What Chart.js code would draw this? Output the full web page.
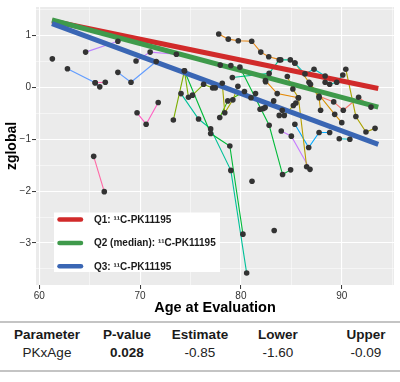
<!DOCTYPE html>
<html><head><meta charset="utf-8">
<script src="https://cdn.jsdelivr.net/npm/chart.js@4/dist/chart.umd.min.js"></script>
<style>
html,body{margin:0;padding:0;background:#fff;width:400px;height:382px;overflow:hidden;font-family:"Liberation Sans",Arial,sans-serif}
#wrap{position:absolute;left:0;top:0;width:400px;height:318px}
.rule{position:absolute;left:0;width:400px;height:2px;background:#C4C4C4}
.cell{position:absolute;width:90px;margin-left:-45px;text-align:center;font-size:13.5px;line-height:16px;color:#222;white-space:nowrap}
.hd{font-weight:bold;color:#1a1a1a}
</style></head><body>
<div id="wrap"><canvas id="c" width="400" height="318"></canvas></div>
<div id="tbl"></div>
<script>
// ---- data (age at evaluation, zglobal) per subject ----
const s01 = [[61.3, 0.55]];
const s02 = [[64.6, 0.68], [67.8, 0.89]];
const s03 = [[62.8, 0.36], [65.55, 0.09], [66.0, 0.01]];
const s04 = [[65.55, 0.09], [66.55, 0.10]];
const s05 = [[67.8, 0.29], [69.1, 0.10], [71.6, 0.50]];
const s06 = [[69.6, 0.51], [71.0, 0.68], [73.6, 0.64]];
const s07 = [[69.7, -0.49], [70.6, -0.71], [71.8, -0.29]];
const s08 = [[65.4, -1.33], [66.45, -2.01]];
const s09 = [[73.3, -0.63], [74.4, 0.32], [74.8, -0.19], [75.2, -0.15], [76.3, 0.06], [77.2, -0.01]];
const s10 = [[74.4, 0.32], [77.0, -0.89], [78.9, -1.13], [80.2, -2.83]];
const s11 = [[74.06, -0.12], [75.8, -0.61], [77.0, -0.80], [79.0, -1.60], [80.57, -3.58]];
const s12 = [[77.45, -0.01], [78.15, 0.08], [78.4, -0.49], [79.2, -0.24], [79.7, 0.02]];
const s13 = [[77.9, -0.58], [78.7, -0.26], [80.35, -0.08], [81.0, -0.20], [81.45, -0.12]];
const s14 = [[79.9, 0.39], [82.8, -0.73], [84.13, -1.68], [84.93, -1.59]];
const s15 = [[79.15, 0.19], [82.8, 0.27], [83.8, 0.53], [84.9, 0.53]];
const s16 = [[77.8, 1.03], [78.75, 0.93], [79.74, 0.90], [81.07, 0.89], [81.97, 0.68], [82.76, 0.59], [83.95, 0.53]];
const s17 = [[85.35, 0.47], [86.35, 0.26], [87.25, 0.35], [88.35, 0.22]];
const s18 = [[88.35, 0.10], [88.8, 0.06], [89.5, 0.10], [90.1, 0.24]];
const s19 = [[90.4, 0.35], [91.4, -0.56], [92.4, -0.86], [93.3, -0.79]];
const s20 = [[85.35, 0.47], [86.75, 0.10], [87.75, -0.20], [87.9, -0.44]];
const s21 = [[86.9, 0.06], [89.3, -0.52], [90.0, -0.68]];
const s22 = [[87.75, -0.17], [89.2, -0.28], [90.15, -0.44], [91.67, -0.19], [92.9, -0.38]];
const s23 = [[82.43, 0.13], [83.6, -0.12], [85.7, -0.20]];
const s24 = [[84.6, 0.21], [85.15, -0.03], [85.7, -0.20], [86.52, -1.53]];
const s25 = [[81.9, -0.42], [82.2, -0.41], [82.4, -0.39], [83.25, -0.26]];
const s26 = [[83.8, -0.54], [84.3, -0.54], [85.2, -0.35], [85.45, -0.30]];
const s27 = [[85.35, -0.71], [86.72, -1.16], [87.75, -0.87], [88.8, -0.87]];
const s28 = [[89.75, -0.99], [90.8, -1.00]];
const s29 = [[84.0, -0.84], [85.0, -0.94], [86.85, -1.58]];
const s30 = [[77.95, 0.43], [79.0, 0.42]];
const s31 = [[81.1, -1.81]];
const s32 = [[83.3, -2.76]];
const s33 = [[82.45, 0.11]];
const s34 = [[84.1, -0.44]];
const subjects = [s01,s02,s03,s04,s05,s06,s07,s08,s09,s10,s11,s12,s13,s14,s15,s16,s17,s18,s19,s20,s21,s22,s23,s24,s25,s26,s27,s28,s29,s30,s31,s32,s33,s34];

// regression fits: age endpoints and predicted zglobal for PK quartiles
const regAge = [61.27, 93.62];
const q1Z = [1.28, -0.02];
const q2Z = [1.30, -0.38];
const q3Z = [1.23, -1.10];
const regLabels = ['Q1: \u00B9\u00B9C-PK11195', 'Q2 (median): \u00B9\u00B9C-PK11195', 'Q3: \u00B9\u00B9C-PK11195'];

// tick values
const xTicks = [60, 65, 70, 75, 80, 85, 90, 95];
const yTicks = [-3.5, -3, -2.5, -2, -1.5, -1, -0.5, 0, 0.5, 1, 1.5];

// table
const tblHeader = ['Parameter', 'P-value', 'Estimate', 'Lower', 'Upper'];
const tblRow = ['PKxAge', '0.028', '-0.85', '-1.60', '-0.09'];

// ---- styles ----
const palette = ['#333333','#B983FF','#619CFF','#FF64B0','#619CFF','#C77CFF','#FF61C3','#FF67A4',
  '#7CAE00','#00BA38','#00C19A','#A3A500','#39B600','#00BA38','#00C08B','#E68613','#00BFC4','#00C1A9',
  '#ABA300','#CD9600','#D89000','#F8766D','#E58700','#B79F00','#7CAE00','#9DA700','#00A9FF','#00BFC4',
  '#C77CFF','#00C08B','#333333','#333333','#333333','#333333'];
const regColors = ['#D12A2A', '#3F9A4B', '#3A66B4'];

const datasets = [];
const allPts = [];
subjects.forEach((s, i) => {
  const pts = s.map(p => ({x: p[0], y: p[1]}));
  pts.forEach(p => allPts.push(p));
  if (pts.length > 1) datasets.push({data: pts, showLine: true, borderColor: palette[i], borderWidth: 1.1, pointRadius: 0, order: 3});
});
[q1Z, q2Z, q3Z].forEach((z, i) => {
  datasets.push({label: regLabels[i], isReg: true, data: regAge.map((a, j) => ({x: a, y: z[j]})), showLine: true,
    borderColor: regColors[i], borderWidth: 5, borderCapStyle: 'butt', pointRadius: 0, order: 2 - i * 0.1});
});
datasets.push({data: allPts, showLine: false, pointRadius: 2.8, pointBackgroundColor: '#333333', pointBorderWidth: 0, order: 0});

const bgPlugin = {
  id: 'bg',
  beforeDraw(chart) {
    const {ctx, chartArea: a} = chart;
    ctx.save(); ctx.fillStyle = '#EBEBEB'; ctx.fillRect(a.left, a.top, a.right - a.left, a.bottom - a.top); ctx.restore();
  }
};
const legendPlugin = {
  id: 'ggLegend',
  afterDraw(chart) {
    const {ctx} = chart;
    const regs = chart.data.datasets.filter(d => d.isReg);
    ctx.save();
    ctx.fillStyle = '#FFFFFF';
    ctx.fillRect(54, 212.5, 166, 59.5);
    regs.forEach((d, i) => {
      const y = 219.5 + i * 23.4;
      ctx.strokeStyle = d.borderColor; ctx.lineWidth = 4.5; ctx.lineCap = 'round';
      ctx.beginPath(); ctx.moveTo(59.5, y); ctx.lineTo(81, y); ctx.stroke();
      ctx.fillStyle = '#1a1a1a'; ctx.font = 'bold 10px "Liberation Sans", Arial, sans-serif';
      ctx.textBaseline = 'middle'; ctx.textAlign = 'left';
      ctx.fillText(d.label, 94, y + 0.5);
    });
    ctx.restore();
  }
};

const isMajorX = v => v % 10 === 0;
const isMajorY = v => Number.isInteger(v);
new Chart(document.getElementById('c'), {
  type: 'scatter',
  data: {datasets},
  plugins: [bgPlugin, legendPlugin],
  options: {
    responsive: false, animation: false, events: [],
    layout: {padding: {left: 0, right: 6, top: 5, bottom: 0}},
    plugins: {legend: {display: false}, tooltip: {enabled: false}},
    scales: {
      x: {
        type: 'linear', min: 59.68, max: 95.18,
        afterBuildTicks: s => { s.ticks = xTicks.map(v => ({value: v})); },
        afterFit: s => { s.height = 33; },
        ticks: {autoSkip: false, maxRotation: 0, padding: 1, color: '#333',
          font: {size: 10, family: '"Liberation Sans", Arial, sans-serif'},
          callback: v => isMajorX(v) ? String(v) : ''},
        grid: {color: '#FFFFFF', lineWidth: c => (c.tick && isMajorX(c.tick.value)) ? 1.1 : 0.5,
          tickLength: 4, tickWidth: 1, tickColor: c => (c.tick && isMajorX(c.tick.value)) ? '#333' : 'rgba(0,0,0,0)'},
        border: {display: false},
        title: {display: true, text: 'Age at Evaluation', color: '#000',
          font: {size: 14.5, weight: 'bold', family: '"Liberation Sans", Arial, sans-serif'}, padding: {top: 0, bottom: 1.5}}
      },
      y: {
        type: 'linear', min: -3.81, max: 1.55,
        afterBuildTicks: s => { s.ticks = yTicks.map(v => ({value: v})); },
        afterFit: s => { s.width = 36; },
        ticks: {autoSkip: false, padding: 1, color: '#333',
          font: {size: 10, family: '"Liberation Sans", Arial, sans-serif'},
          callback: v => isMajorY(v) ? (v < 0 ? '\u2212' + Math.abs(v) : String(v)) : ''},
        grid: {color: '#FFFFFF', lineWidth: c => (c.tick && isMajorY(c.tick.value)) ? 1.1 : 0.5,
          tickLength: 4, tickWidth: 1, tickColor: c => (c.tick && isMajorY(c.tick.value)) ? '#333' : 'rgba(0,0,0,0)'},
        border: {display: false},
        title: {display: true, text: 'zglobal', color: '#000',
          font: {size: 14, weight: 'bold', family: '"Liberation Sans", Arial, sans-serif'}, padding: {top: 3.6, bottom: 0}}
      }
    }
  }
});

// ---- table below ----
const tbl = document.getElementById('tbl');
const colX = [47, 127, 200, 278, 366];
let html = '<div class="rule" style="top:321px"></div><div class="rule" style="top:370px"></div>';
tblHeader.forEach((t, i) => { html += `<div class="cell hd" style="left:${colX[i]}px;top:327px">${t}</div>`; });
tblRow.forEach((t, i) => { html += `<div class="cell" style="left:${colX[i]}px;top:345px;${i===1?'font-weight:bold;color:#1a1a1a':''}">${t}</div>`; });
tbl.innerHTML = html;
</script>
</body></html>
